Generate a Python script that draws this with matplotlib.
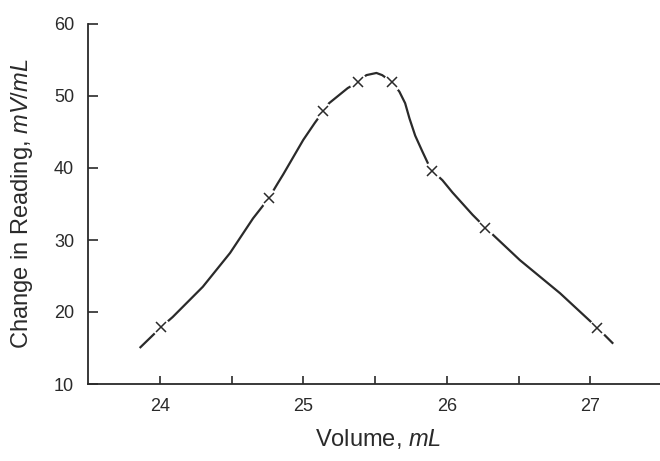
import matplotlib
matplotlib.use('Agg')
import matplotlib.pyplot as plt

plt.rcParams['font.family'] = ['Liberation Sans', 'DejaVu Sans']
plt.rcParams['mathtext.fontset'] = 'custom'
plt.rcParams['mathtext.rm'] = 'Liberation Sans'
plt.rcParams['mathtext.it'] = 'Liberation Sans:italic'

# smooth titration curve
curve_x = [23.86, 24.01, 24.09, 24.30, 24.49, 24.65, 24.76, 24.82, 24.86, 24.93,
           25.00, 25.08, 25.14, 25.18, 25.31, 25.38, 25.44, 25.51, 25.55, 25.62,
           25.67, 25.71, 25.74, 25.78, 25.83, 25.87, 25.90, 25.97, 26.04, 26.18,
           26.27, 26.51, 26.79, 27.05, 27.16]
curve_y = [15.0, 17.9, 19.3, 23.5, 28.2, 33.0, 35.8, 37.8, 39.1, 41.5,
           43.9, 46.25, 47.9, 49.0, 51.1, 51.9, 52.9, 53.2, 52.9, 51.9,
           50.6, 49.0, 46.9, 44.5, 42.3, 40.6, 39.6, 38.3, 36.6, 33.5,
           31.7, 27.2, 22.6, 17.8, 15.6]

# measured points (x markers)
vol = [24.01, 24.76, 25.14, 25.38, 25.62, 25.90, 26.27, 27.05]
reading = [17.9, 35.8, 47.9, 51.9, 51.9, 39.6, 31.7, 17.8]

xticks_major = [24, 25, 26, 27]
xticks_minor = [24.5, 25.5, 26.5]
yticks = [10, 20, 30, 40, 50, 60]

ink = '#2a2a2a'

fig = plt.figure(figsize=(6.6, 4.61), dpi=100)
fig.patch.set_facecolor('white')
ax = fig.add_axes([88 / 660, 77 / 461, 574 / 660, 360 / 461])

ax.plot(curve_x, curve_y, color=ink, lw=1.6, solid_capstyle='butt', zorder=2)
# white halo breaks the line around each marker, like the original
ax.plot(vol, reading, linestyle='none', marker='o', ms=13, mfc='white', mec='none', zorder=3)
ax.plot(vol, reading, linestyle='none', marker='x', ms=7, mew=1.1, color=ink, zorder=4)

ax.set_xlim(23.5, 27.5)
ax.set_ylim(10, 60)
ax.set_xticks(xticks_major)
ax.set_xticks(xticks_minor, minor=True)
ax.set_yticks(yticks)

for s in ['top', 'right']:
    ax.spines[s].set_visible(False)
for s in ['left', 'bottom']:
    ax.spines[s].set_color(ink)
    ax.spines[s].set_linewidth(1.3)

ax.tick_params(axis='y', direction='in', length=7, width=1.2, pad=10,
               labelsize=13, colors=ink)
ax.tick_params(axis='x', which='both', direction='in', length=6, width=1.2,
               pad=10, labelsize=13, colors=ink)

ax.set_ylabel('Change in Reading, $mV/mL$', fontsize=17, color=ink)
ax.set_xlabel('Volume, $mL$', fontsize=17, color=ink)
ax.yaxis.set_label_coords(-0.115, 0.5)
ax.xaxis.set_label_coords(0.505, -0.153)
ax.xaxis.label.set_va('center')
ax.yaxis.label.set_va('center')

fig.savefig('out.png', dpi=100)
